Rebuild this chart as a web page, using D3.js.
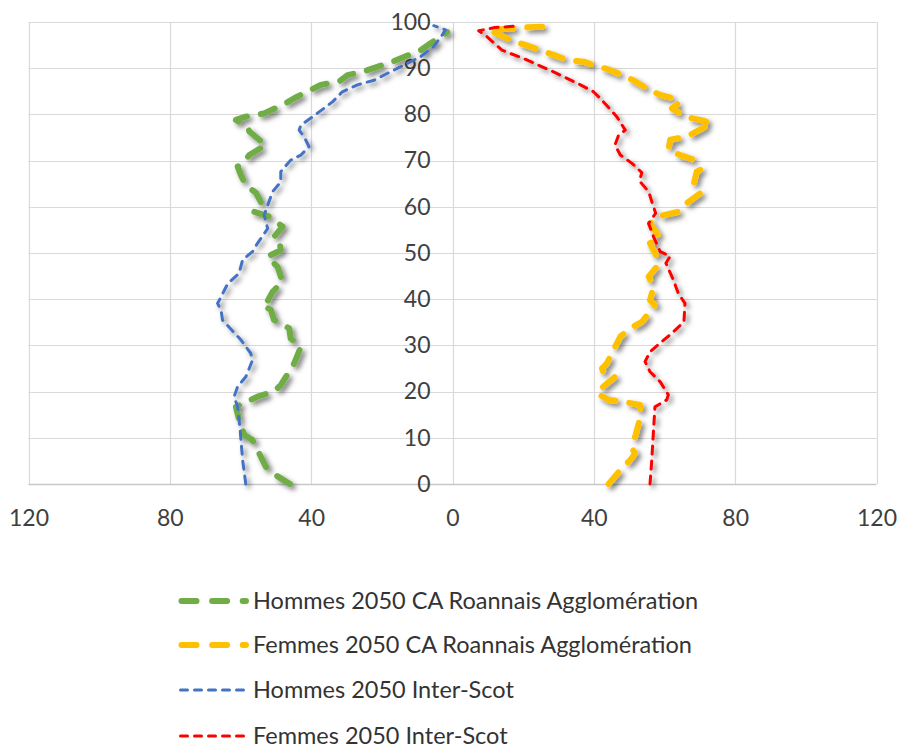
<!DOCTYPE html>
<html>
<head>
<meta charset="utf-8">
<script src="https://cdn.jsdelivr.net/npm/d3@7"></script>
<style>
  html, body { margin: 0; padding: 0; background: #fff; }
  svg { display: block; font-family: Lato, "Open Sans", sans-serif; }
</style>
</head>
<body>
<svg id="chart" width="901" height="749"></svg>
<script>
// ---- Data ----
const seriesNames = [
  "Hommes 2050 CA Roannais Agglomération",
  "Femmes 2050 CA Roannais Agglomération",
  "Hommes 2050 Inter-Scot",
  "Femmes 2050 Inter-Scot"
];
const xTickValues = [-120, -80, -40, 0, 40, 80, 120];
const yTickValues = [0, 10, 20, 30, 40, 50, 60, 70, 80, 90, 100];

// Hommes 2050 CA Roannais Agglomération (age, population)
const hommesCA_age = [0, 1.9, 3.7, 6.6, 9.5, 10.6, 13.9, 16.7, 18.9, 20, 21.4, 26.1, 29.7, 31.5, 33.7, 35.5, 37.7, 38.7, 39.5, 41.6, 43.8, 47, 49.2, 50.6, 52.8, 53.5, 55.7, 57.9, 58.9, 60.4, 63, 64.7, 66.9, 68.7, 69.4, 71.2, 73.4, 74.5, 76.3, 77.3, 78.8, 79.5, 80.2, 82.4, 83.5, 85.3, 86.4, 87.1, 88.5, 89.2, 91.4, 93.9, 95.4, 97.8];
const hommesCA_val = [46, 50, 52.8, 54.7, 56.6, 58.9, 60.4, 61.3, 55.2, 50.5, 48.6, 44.8, 42.9, 45.8, 46.2, 50.5, 51.4, 53.8, 52.4, 50.9, 48.1, 49.5, 52.4, 48.6, 49, 50.5, 48.1, 51.9, 56.1, 53.8, 55.6, 58.5, 59.9, 60.8, 59.4, 57.5, 52.8, 54.7, 57.5, 58, 61.3, 58.5, 53.3, 47.2, 44.8, 40.1, 37.3, 32.1, 29.7, 25.5, 17, 9, 6.2, 1.5];

// Femmes 2050 CA Roannais Agglomération
const femmesCA_age = [0, 3, 5.2, 6.6, 7.7, 11.7, 14.2, 17.1, 17.8, 18.2, 19.6, 21.1, 23.2, 24.3, 25, 26.1, 28.3, 31.9, 33.7, 35.1, 38.7, 39.8, 42.7, 44.9, 47.5, 49.2, 52.1, 53.2, 56.4, 58.2, 58.9, 60.8, 62.9, 64.7, 67.6, 68, 70.1, 71.2, 72.3, 74.5, 75.2, 78.1, 78.8, 79.5, 81.3, 82.7, 83.5, 84.2, 85.6, 87.4, 89.6, 91.4, 91.8, 93.9, 96.1, 98.2, 98.8, 99.1];
const femmesCA_val = [44.2, 47.5, 50.3, 51.7, 50.8, 52.2, 53.1, 53.1, 48.4, 44.2, 40.9, 42.7, 46, 42.7, 42.3, 43.7, 45.1, 47.5, 50.3, 53.6, 57.3, 55.9, 56.9, 55.5, 58.3, 57.8, 55.9, 58.8, 55.9, 59.7, 63.9, 66.3, 70.1, 68.2, 69.1, 70.1, 68.6, 64.4, 61.1, 61.6, 66.3, 73.4, 70.1, 65.8, 62.1, 64.4, 62.5, 58.8, 55, 51.2, 44.6, 37.1, 32.4, 24.9, 16.4, 10.5, 20, 29];

// Hommes 2050 Inter-Scot
const hommesIS_age = [0, 5.2, 11.7, 16.7, 18.9, 21.1, 23.2, 26.8, 28.3, 31.2, 35.5, 37.7, 39.1, 40.5, 43.4, 45.6, 48.5, 50.3, 52.1, 55.3, 58.2, 63.3, 65.4, 67.6, 70.1, 71.2, 73, 75.2, 76.6, 77.7, 79.2, 81.3, 82.7, 84.9, 86.4, 87.4, 88.9, 90.7, 92.5, 94.7, 97.2, 98.3, 99.2];
const hommesIS_val = [58.5, 59.4, 60.1, 60.8, 61.8, 60.8, 58.5, 56.6, 57.1, 59.9, 65.1, 65.5, 66.5, 65.5, 63.6, 60.4, 59.4, 56.6, 55.2, 52.3, 53.3, 50.9, 48.6, 48.6, 45.8, 42.9, 40.6, 42, 43.4, 42.9, 40.1, 36.4, 34, 31.2, 26.9, 22.2, 18.4, 13.7, 9, 5.3, 2.9, 2, 5.3];

// Femmes 2050 Inter-Scot
const femmesIS_age = [0, 5.2, 11.7, 16.7, 18.2, 19.3, 22.1, 24.3, 26.5, 28.6, 30.8, 32.3, 35.1, 39.1, 41.3, 44.2, 47.8, 49.3, 50.3, 53.5, 56.4, 58.6, 60, 63.3, 65.6, 67.4, 69.4, 71.2, 73.4, 75.5, 76.6, 79.5, 83.5, 84.9, 86.4, 89.2, 92.1, 93.9, 96.8, 98.1, 98.8, 99.1];
const femmesIS_val = [55.9, 56.4, 56.9, 57.3, 60.6, 61.1, 58.8, 55.9, 54.5, 55.9, 59.2, 61.6, 65.5, 65.8, 63.9, 62.5, 60.4, 61.6, 58.8, 56.9, 55.5, 57.5, 56.9, 55.5, 52.9, 53.6, 50.8, 47.5, 46, 47, 48.9, 46.5, 41.8, 39.9, 36.2, 28.6, 20.1, 14, 9.8, 7.4, 12, 18];

(function () {
// ---- Build series ----
const series = [
  { name: seriesNames[0], ages: hommesCA_age, vals: hommesCA_val, side: -1, color: "#70AD47", width: 6, dash: "15,14" },
  { name: seriesNames[1], ages: femmesCA_age, vals: femmesCA_val, side: 1, color: "#FFC000", width: 6, dash: "15,14" },
  { name: seriesNames[2], ages: hommesIS_age, vals: hommesIS_val, side: -1, color: "#4472C4", width: 3, dash: "8,7" },
  { name: seriesNames[3], ages: femmesIS_age, vals: femmesIS_val, side: 1, color: "#FF0000", width: 3, dash: "8,7" }
];

const svg = d3.select("#chart");
const pLeft = 28.5, pRight = 876.5, pTop = 22, pBottom = 484;

const x = d3.scaleLinear().domain([-120, 120]).range([pLeft, pRight]);
const y = d3.scaleLinear().domain([0, 100]).range([pBottom, pTop]);

// shadow filter
const defs = svg.append("defs");
const f = defs.append("filter").attr("id", "shadow")
  .attr("x", "-20%").attr("y", "-20%").attr("width", "140%").attr("height", "140%");
f.append("feDropShadow").attr("dx", 3).attr("dy", 3).attr("stdDeviation", 2.5)
  .attr("flood-color", "#000").attr("flood-opacity", 0.5);

// gridlines
const grid = svg.append("g");
grid.selectAll("line.h").data(yTickValues).join("line")
  .attr("x1", pLeft).attr("x2", pRight)
  .attr("y1", d => Math.round(y(d)) + 0.5).attr("y2", d => Math.round(y(d)) + 0.5)
  .attr("stroke", d => d === 0 ? "#c8c8c8" : "#d9d9d9").attr("stroke-width", d => d === 0 ? 1.5 : 1.2);
grid.selectAll("line.v").data(xTickValues).join("line")
  .attr("y1", pTop).attr("y2", pBottom)
  .attr("x1", d => Math.round(x(d)) + 0.5).attr("x2", d => Math.round(x(d)) + 0.5)
  .attr("stroke", "#d9d9d9").attr("stroke-width", 1.2);

// axis labels via d3 axes
const fmtAbs = d => String(Math.abs(d));
const xAxis = d3.axisBottom(x).tickValues(xTickValues).tickFormat(fmtAbs).tickSize(0).tickPadding(26);
const gx = svg.append("g").attr("transform", `translate(0,${pBottom})`).call(xAxis);
gx.select(".domain").remove();
gx.selectAll("text").attr("font-size", 23).attr("fill", "#404040").attr("font-family", "Lato, sans-serif");

const yAxis = d3.axisLeft(y).tickValues(yTickValues).tickSize(0).tickPadding(22);
const gy = svg.append("g").attr("transform", `translate(${x(0)},0)`).call(yAxis);
gy.select(".domain").remove();
gy.selectAll("text").attr("font-size", 23).attr("fill", "#404040").attr("font-family", "Lato, sans-serif");

// lines
const line = d3.line().x(d => x(d.v)).y(d => y(d.a));
const lg = svg.append("g").attr("filter", "url(#shadow)");
series.forEach(s => {
  const pts = s.ages.map((a, i) => ({ a: a, v: s.side * s.vals[i] }));
  lg.append("path").datum(pts)
    .attr("d", line)
    .attr("fill", "none")
    .attr("stroke", s.color)
    .attr("stroke-width", s.width)
    .attr("stroke-dasharray", s.dash)
    .attr("stroke-linecap", "round")
    .attr("stroke-linejoin", "round");
});

// legend
const legendY = [601, 645, 690, 736];
const leg = svg.append("g");
series.forEach((s, i) => {
  const g = leg.append("g").attr("transform", `translate(0,${legendY[i]})`);
  g.append("line")
    .attr("x1", s.width === 6 ? 181.5 : 180.5).attr("x2", s.width === 6 ? 246 : 248)
    .attr("y1", 0).attr("y2", 0)
    .attr("stroke", s.color).attr("stroke-width", s.width)
    .attr("stroke-dasharray", s.width === 6 ? "15,15.6" : "7,7")
    .attr("stroke-linecap", "round");
  g.append("text").attr("x", 253).attr("y", 0).attr("dy", "0.35em")
    .attr("font-size", 23.5).attr("fill", "#333")
    .text(s.name);
});
})();
</script>
</body>
</html>
